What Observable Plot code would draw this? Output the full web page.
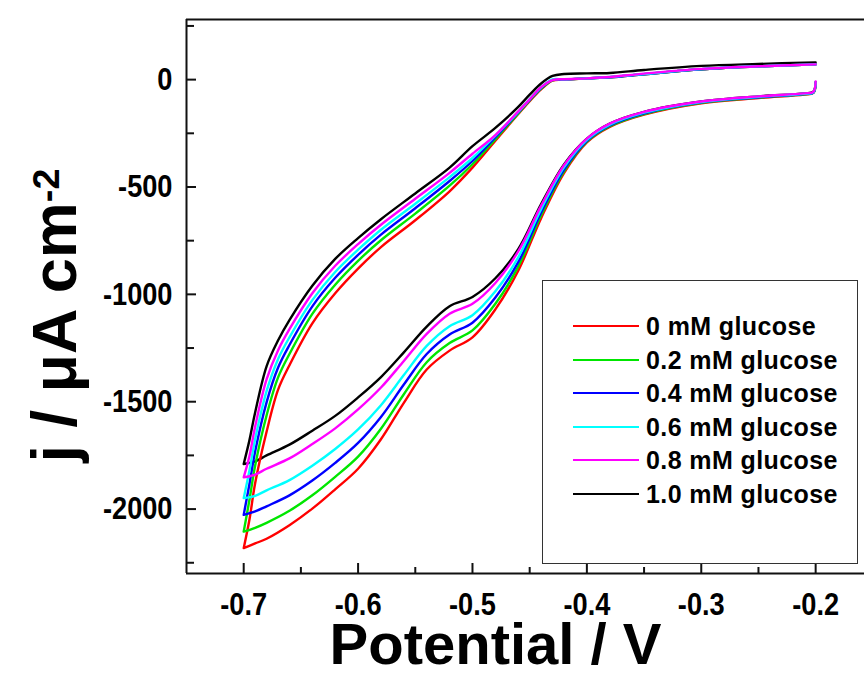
<!DOCTYPE html>
<html>
<head>
<meta charset="utf-8">
<script src="https://cdn.jsdelivr.net/npm/d3@7"></script>
<script src="https://cdn.jsdelivr.net/npm/@observablehq/plot@0.6"></script>
<style>
  body { margin: 0; background: #fff; }
  #wrap { position: relative; width: 864px; height: 678px; overflow: hidden; font-family: "Liberation Sans", Arial, sans-serif; }
  #legend { position: absolute; left: 542px; top: 280px; width: 316px; height: 284px; border: 1.5px solid #333; box-sizing: border-box; background: #fff; }
  .row { position: absolute; left: 0; height: 30px; line-height: 30px; white-space: nowrap; }
  .sw { position: absolute; left: 30px; top: 14px; width: 66px; height: 0; border-top: 2.6px solid; }
  .lab { position: absolute; left: 103px; top: 0; font-size: 25px; font-weight: bold; letter-spacing: 0.4px; color: #000; }
</style>
</head>
<body>
<div id="wrap"></div>
<script>
// ---- data ----
const concentrations = ["0", "0.2", "0.4", "0.6", "0.8", "1.0"];
const labels = concentrations.map(c => `${c} mM glucose`);
const colors = ["#ff0000", "#00e600", "#0000ff", "#00ffff", "#ff00ff", "#000000"];

// cathodic (lower) branch, scanned from -0.2 V to -0.7 V
const potentialLower = [-0.2, -0.202, -0.21, -0.25, -0.30, -0.35, -0.38, -0.40, -0.42, -0.44, -0.46, -0.48, -0.50, -0.52, -0.54, -0.56, -0.58, -0.60, -0.62, -0.64, -0.66, -0.68, -0.69, -0.70];
// return (upper) branch, scanned from -0.7 V back to -0.2 V
const potentialUpper = [-0.70, -0.695, -0.69, -0.68, -0.67, -0.66, -0.64, -0.62, -0.60, -0.58, -0.55, -0.52, -0.50, -0.48, -0.46, -0.45, -0.44, -0.43, -0.42, -0.40, -0.38, -0.35, -0.30, -0.25, -0.20];

const lower0 = [-15, -62, -70, -86, -110, -163, -220, -292, -435, -645, -890, -1070, -1200, -1262, -1350, -1505, -1675, -1812, -1908, -1998, -2075, -2138, -2160, -2182];
const lower02 = [-14, -61, -68, -84, -108, -160, -217, -289, -427, -632, -870, -1044, -1168, -1227, -1316, -1465, -1626, -1756, -1850, -1936, -2008, -2064, -2087, -2105];
const lower04 = [-13, -60, -67, -82, -106, -157, -213, -285, -419, -619, -850, -1015, -1132, -1187, -1278, -1420, -1571, -1692, -1785, -1867, -1936, -1987, -2011, -2027];
const lower06 = [-12, -59, -66, -80, -104, -154, -210, -281, -409, -603, -828, -986, -1097, -1148, -1240, -1376, -1516, -1629, -1720, -1798, -1865, -1913, -1938, -1949];
const lower08 = [-8, -57, -64, -78, -102, -150, -205, -275, -399, -587, -800, -947, -1044, -1090, -1184, -1310, -1434, -1536, -1624, -1697, -1764, -1812, -1839, -1852];
const lower10 = [-12, -56, -64, -78, -102, -150, -205, -275, -395, -580, -790, -925, -1012, -1055, -1150, -1270, -1385, -1480, -1566, -1635, -1700, -1750, -1778, -1790];

const upper0 = [-2182, -2050, -1880, -1640, -1445, -1330, -1135, -995, -880, -780, -655, -520, -410, -285, -160, -100, -45, -5, -1, 6, 11, 25, 48, 62, 71];
const upper02 = [-2105, -1958, -1798, -1564, -1388, -1278, -1091, -955, -844, -748, -624, -494, -394, -277, -157, -97, -42, -3, 0, 6, 11, 25, 48, 62, 71];
const upper04 = [-2027, -1884, -1732, -1503, -1342, -1236, -1056, -923, -816, -722, -599, -472, -379, -268, -153, -94, -39, -1, 0, 6, 11, 25, 48, 62, 71];
const upper06 = [-1949, -1821, -1675, -1451, -1302, -1200, -1027, -896, -792, -699, -578, -454, -365, -261, -150, -91, -36, 1, 1, 6, 12, 26, 49, 62, 71];
const upper08 = [-1852, -1754, -1616, -1396, -1261, -1162, -995, -867, -766, -676, -555, -434, -345, -258, -148, -92, -35, -2, 2, 6, 12, 28, 50, 62, 71];
const upper10 = [-1790, -1680, -1550, -1335, -1215, -1120, -960, -835, -738, -650, -530, -410, -310, -225, -127, -70, -18, 17, 26, 29, 31, 45, 64, 73, 80];

const lowerBranches = [lower0, lower02, lower04, lower06, lower08, lower10];
const upperBranches = [upper0, upper02, upper04, upper06, upper08, upper10];

const xTicks = [-0.7, -0.6, -0.5, -0.4, -0.3, -0.2];
const xMinor = [-0.65, -0.55, -0.45, -0.35, -0.25];
const yTicks = [0, -500, -1000, -1500, -2000];
const yMinor = [250, -250, -750, -1250, -1750, -2250];
const xDomain = [-0.75, -0.1573];
const yDomain = [-2300, 280];
const xTitle = "Potential / V";
const yTitleMain = "j / \u03BCA cm";
const yTitleSup = "-2";

// ---- build table ----
const drawOrder = [5, 0, 1, 2, 3, 4];
const rows = [];
for (const i of drawOrder) {
  potentialLower.forEach((v, k) => rows.push({V: v, j: lowerBranches[i][k], series: labels[i]}));
  potentialUpper.forEach((v, k) => rows.push({V: v, j: upperBranches[i][k], series: labels[i]}));
}

const W = 864, H = 678, mL = 186, mR = 0, mT = 19, mB = 105;
const frameW = W - mL - mR, frameH = H - mT - mB;
const font = "Liberation Sans, Arial, sans-serif";

const chart = Plot.plot({
  width: W, height: H,
  marginLeft: mL, marginRight: mR, marginTop: mT, marginBottom: mB,
  x: {domain: xDomain},
  y: {domain: yDomain},
  color: {domain: labels, range: colors},
  style: {fontFamily: font, background: "#fff", color: "#000"},
  marks: [
    Plot.axisX(xTicks, {anchor: "bottom", label: null, tickSize: 0, tickPadding: 19, tickFormat: d => d.toFixed(1), fontSize: 32, fontWeight: "bold", fill: "#000"}),
    Plot.axisY(yTicks, {anchor: "left", label: null, tickSize: 0, tickPadding: 14, tickFormat: d => String(d), fontSize: 32, fontWeight: "bold", fill: "#000"}),
    Plot.tickX(xTicks, {x: d => d, insetTop: frameH - 10, stroke: "#111", strokeWidth: 2}),
    Plot.tickX(xMinor, {x: d => d, insetTop: frameH - 6, stroke: "#111", strokeWidth: 2}),
    Plot.tickY(yTicks, {y: d => d, insetRight: frameW - 10, stroke: "#111", strokeWidth: 2}),
    Plot.tickY(yMinor, {y: d => d, insetRight: frameW - 8, stroke: "#111", strokeWidth: 2}),
    Plot.line(rows, {x: "V", y: "j", z: "series", stroke: "series", strokeWidth: 2.4, curve: "catmull-rom"}),
    Plot.ruleX([xDomain[0]], {stroke: "#111", strokeWidth: 2}),
    Plot.ruleY(yDomain, {stroke: "#111", strokeWidth: 2}),
    Plot.text([xTitle], {frameAnchor: "bottom", lineAnchor: "middle", textAnchor: "middle", dx: -30, dy: 72, text: d => d, fontSize: 58, fontWeight: "bold", fill: "#000"}),
    Plot.text([yTitleMain], {frameAnchor: "left", lineAnchor: "middle", textAnchor: "middle", dx: -131, dy: 19, rotate: -90, text: d => d, fontSize: 63, fontWeight: "bold", fill: "#000"})
  ]
});

const svg = d3.select(chart);

// superscript on the y title
svg.selectAll("text").filter(function() { return this.textContent === yTitleMain; })
  .each(function() {
    const t = d3.select(this);
    t.text(null);
    t.append("tspan").text(yTitleMain);
    t.append("tspan").attr("dy", "-0.45em").attr("font-size", "60%").text(yTitleSup);
  });

const wrap = document.getElementById("wrap");
wrap.appendChild(chart);

// narrow the tick labels horizontally about their anchor, as in the reference lettering
const sx = 0.85;
svg.selectAll("text").filter(function() { return /^-?[0-9.]+$/.test(this.textContent); })
  .each(function() {
    const b = this.getBBox();
    const anchor = getComputedStyle(this).textAnchor;
    const ax = anchor === "end" ? b.x + b.width : anchor === "start" ? b.x : b.x + b.width / 2;
    const tr = this.getAttribute("transform") || "";
    this.setAttribute("transform", `${tr} translate(${ax},0) scale(${sx},1) translate(${-ax},0)`);
  });

// legend
const legend = document.createElement("div");
legend.id = "legend";
labels.forEach((lab, i) => {
  const row = document.createElement("div");
  row.className = "row";
  row.style.top = (30 + i * 33.6) + "px";
  row.style.width = "100%";
  const sw = document.createElement("span");
  sw.className = "sw";
  sw.style.borderTopColor = colors[i];
  const tx = document.createElement("span");
  tx.className = "lab";
  tx.textContent = lab;
  row.appendChild(sw);
  row.appendChild(tx);
  legend.appendChild(row);
});
wrap.appendChild(legend);
</script>
</body>
</html>
